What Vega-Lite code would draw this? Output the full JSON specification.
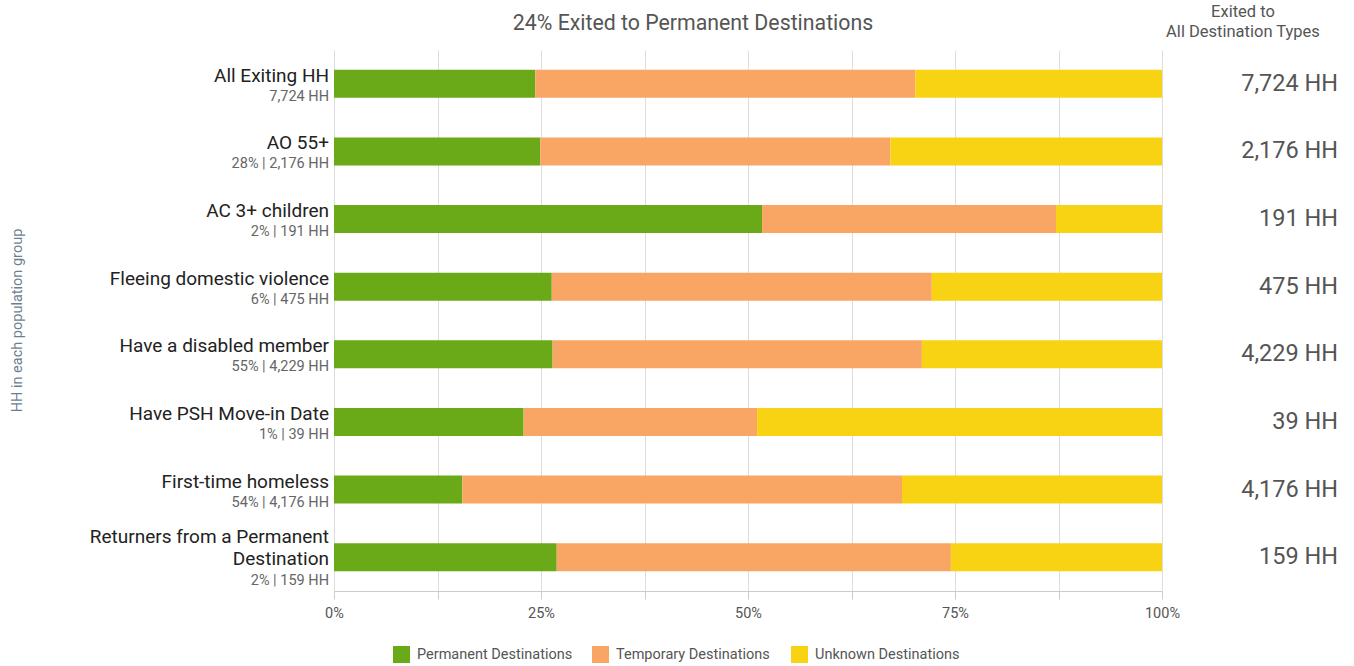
{
  "$schema": "https://vega.github.io/schema/vega-lite/v6.json",
  "width": 828,
  "height": 541,
  "autosize": {"type": "none"},
  "padding": {"left": 334, "top": 50, "right": 192, "bottom": 75},
  "background": "white",
  "config": {
    "font": "Roboto",
    "view": {"stroke": null},
    "text": {"font": "Roboto"}
  },
  "datasets": {
    "bars": [
      {"group": "All Exiting HH", "dest": "Permanent Destinations", "pct": 0.243},
      {"group": "All Exiting HH", "dest": "Temporary Destinations", "pct": 0.459},
      {"group": "All Exiting HH", "dest": "Unknown Destinations", "pct": 0.298},
      {"group": "AO 55+", "dest": "Permanent Destinations", "pct": 0.249},
      {"group": "AO 55+", "dest": "Temporary Destinations", "pct": 0.423},
      {"group": "AO 55+", "dest": "Unknown Destinations", "pct": 0.328},
      {"group": "AC 3+ children", "dest": "Permanent Destinations", "pct": 0.517},
      {"group": "AC 3+ children", "dest": "Temporary Destinations", "pct": 0.355},
      {"group": "AC 3+ children", "dest": "Unknown Destinations", "pct": 0.128},
      {"group": "Fleeing domestic violence", "dest": "Permanent Destinations", "pct": 0.263},
      {"group": "Fleeing domestic violence", "dest": "Temporary Destinations", "pct": 0.459},
      {"group": "Fleeing domestic violence", "dest": "Unknown Destinations", "pct": 0.278},
      {"group": "Have a disabled member", "dest": "Permanent Destinations", "pct": 0.264},
      {"group": "Have a disabled member", "dest": "Temporary Destinations", "pct": 0.446},
      {"group": "Have a disabled member", "dest": "Unknown Destinations", "pct": 0.290},
      {"group": "Have PSH Move-in Date", "dest": "Permanent Destinations", "pct": 0.229},
      {"group": "Have PSH Move-in Date", "dest": "Temporary Destinations", "pct": 0.282},
      {"group": "Have PSH Move-in Date", "dest": "Unknown Destinations", "pct": 0.489},
      {"group": "First-time homeless", "dest": "Permanent Destinations", "pct": 0.155},
      {"group": "First-time homeless", "dest": "Temporary Destinations", "pct": 0.531},
      {"group": "First-time homeless", "dest": "Unknown Destinations", "pct": 0.314},
      {"group": "Returners from a Permanent Destination", "dest": "Permanent Destinations", "pct": 0.269},
      {"group": "Returners from a Permanent Destination", "dest": "Temporary Destinations", "pct": 0.476},
      {"group": "Returners from a Permanent Destination", "dest": "Unknown Destinations", "pct": 0.255}
    ],
    "groups": [
      {"group": "All Exiting HH", "label": "All Exiting HH", "sub": "7,724 HH", "total": "7,724 HH"},
      {"group": "AO 55+", "label": "AO 55+", "sub": "28% | 2,176 HH", "total": "2,176 HH"},
      {"group": "AC 3+ children", "label": "AC 3+ children", "sub": "2% | 191 HH", "total": "191 HH"},
      {"group": "Fleeing domestic violence", "label": "Fleeing domestic violence", "sub": "6% | 475 HH", "total": "475 HH"},
      {"group": "Have a disabled member", "label": "Have a disabled member", "sub": "55% | 4,229 HH", "total": "4,229 HH"},
      {"group": "Have PSH Move-in Date", "label": "Have PSH Move-in Date", "sub": "1% | 39 HH", "total": "39 HH"},
      {"group": "First-time homeless", "label": "First-time homeless", "sub": "54% | 4,176 HH", "total": "4,176 HH"},
      {"group": "Returners from a Permanent Destination", "label": "Returners from a Permanent \nDestination", "sub": "2% | 159 HH", "total": "159 HH"}
    ],
    "header": [
      {"text": "Exited to\nAll Destination Types", "title": "24% Exited to Permanent Destinations", "group": "All Exiting HH"}
    ]
  },
  "encoding": {
    "y": {
      "field": "group",
      "type": "nominal",
      "sort": ["All Exiting HH", "AO 55+", "AC 3+ children", "Fleeing domestic violence", "Have a disabled member", "Have PSH Move-in Date", "First-time homeless", "Returners from a Permanent Destination"],
      "scale": {"paddingInner": 0.585, "paddingOuter": 0.2925},
      "axis": {
        "title": "HH in each population group",
        "labels": false,
        "ticks": false,
        "domain": false,
        "grid": false,
        "titleX": -317,
        "titleY": 270,
        "titleFontSize": 14.5,
        "titleFont": "Roboto",
        "titleColor": "#6e7f91",
        "titleFontWeight": "normal",
        "titleAngle": -90,
        "titleAlign": "center",
        "titleBaseline": "middle"
      }
    }
  },
  "layer": [
    {
      "data": {"name": "bars"},
      "mark": {"type": "bar"},
      "encoding": {
        "x": {
          "field": "pct",
          "type": "quantitative",
          "stack": "normalize",
          "scale": {"domain": [0, 1], "nice": false},
          "axis": {
            "title": null,
            "values": [0, 0.125, 0.25, 0.375, 0.5, 0.625, 0.75, 0.875, 1],
            "labelExpr": "(datum.value * 4) % 1 == 0 ? format(datum.value, '.0%') : ''",
            "labelFlush": false,
            "labelOverlap": false,
            "grid": true,
            "gridColor": "#dddddd",
            "domainColor": "#cccccc",
            "tickColor": "#cccccc",
            "tickSize": 8,
            "labelFontSize": 14.5,
            "labelFont": "Roboto",
            "labelColor": "#555555",
            "labelPadding": 7
          }
        },
        "color": {
          "field": "dest",
          "type": "nominal",
          "scale": {
            "domain": ["Permanent Destinations", "Temporary Destinations", "Unknown Destinations"],
            "range": ["#6aa917", "#f9a664", "#f8d313"]
          },
          "legend": {
            "title": null,
            "orient": "none",
            "legendX": 59,
            "legendY": 596,
            "direction": "horizontal",
            "columns": 3,
            "gridAlign": "all",
            "columnPadding": 19,
            "symbolType": "square",
            "symbolSize": 289,
            "symbolStrokeWidth": 0,
            "labelOffset": 7,
            "labelFontSize": 14.5,
            "labelFont": "Roboto",
            "labelColor": "#555555"
          }
        }
      }
    },
    {
      "data": {"name": "groups"},
      "transform": [{"filter": "datum.group !== 'Returners from a Permanent Destination'"}],
      "mark": {"type": "text", "align": "right", "baseline": "alphabetic", "dx": -5, "dy": -2, "fontSize": 19, "color": "#222222"},
      "encoding": {"x": {"datum": 0, "type": "quantitative"}, "text": {"field": "label"}}
    },
    {
      "data": {"name": "groups"},
      "transform": [{"filter": "datum.group === 'Returners from a Permanent Destination'"}],
      "mark": {"type": "text", "align": "right", "baseline": "alphabetic", "dx": -5, "dy": -14, "fontSize": 19, "color": "#222222", "lineBreak": "\n", "lineHeight": 22},
      "encoding": {"x": {"datum": 0, "type": "quantitative"}, "text": {"field": "label"}}
    },
    {
      "data": {"name": "groups"},
      "transform": [{"filter": "datum.group !== 'Returners from a Permanent Destination'"}],
      "mark": {"type": "text", "align": "right", "baseline": "alphabetic", "dx": -5, "dy": 17, "fontSize": 14.5, "color": "#666666"},
      "encoding": {"x": {"datum": 0, "type": "quantitative"}, "text": {"field": "sub"}}
    },
    {
      "data": {"name": "groups"},
      "transform": [{"filter": "datum.group === 'Returners from a Permanent Destination'"}],
      "mark": {"type": "text", "align": "right", "baseline": "alphabetic", "dx": -5, "dy": 28, "fontSize": 14.5, "color": "#666666"},
      "encoding": {"x": {"datum": 0, "type": "quantitative"}, "text": {"field": "sub"}}
    },
    {
      "data": {"name": "groups"},
      "mark": {"type": "text", "align": "right", "baseline": "middle", "dx": 176, "dy": 0, "fontSize": 23.5, "color": "#555555"},
      "encoding": {"x": {"datum": 1, "type": "quantitative"}, "text": {"field": "total"}}
    },
    {
      "data": {"name": "header"},
      "mark": {"type": "text", "align": "center", "baseline": "alphabetic", "dx": 81, "dy": -67, "fontSize": 16.5, "color": "#555555", "lineBreak": "\n", "lineHeight": 20},
      "encoding": {"x": {"datum": 1, "type": "quantitative"}, "text": {"field": "text"}}
    },
    {
      "data": {"name": "header"},
      "mark": {"type": "text", "align": "center", "baseline": "alphabetic", "dx": -55, "dy": -54, "fontSize": 21.3, "color": "#555555"},
      "encoding": {"x": {"datum": 0.5, "type": "quantitative"}, "text": {"field": "title"}}
    }
  ]
}
